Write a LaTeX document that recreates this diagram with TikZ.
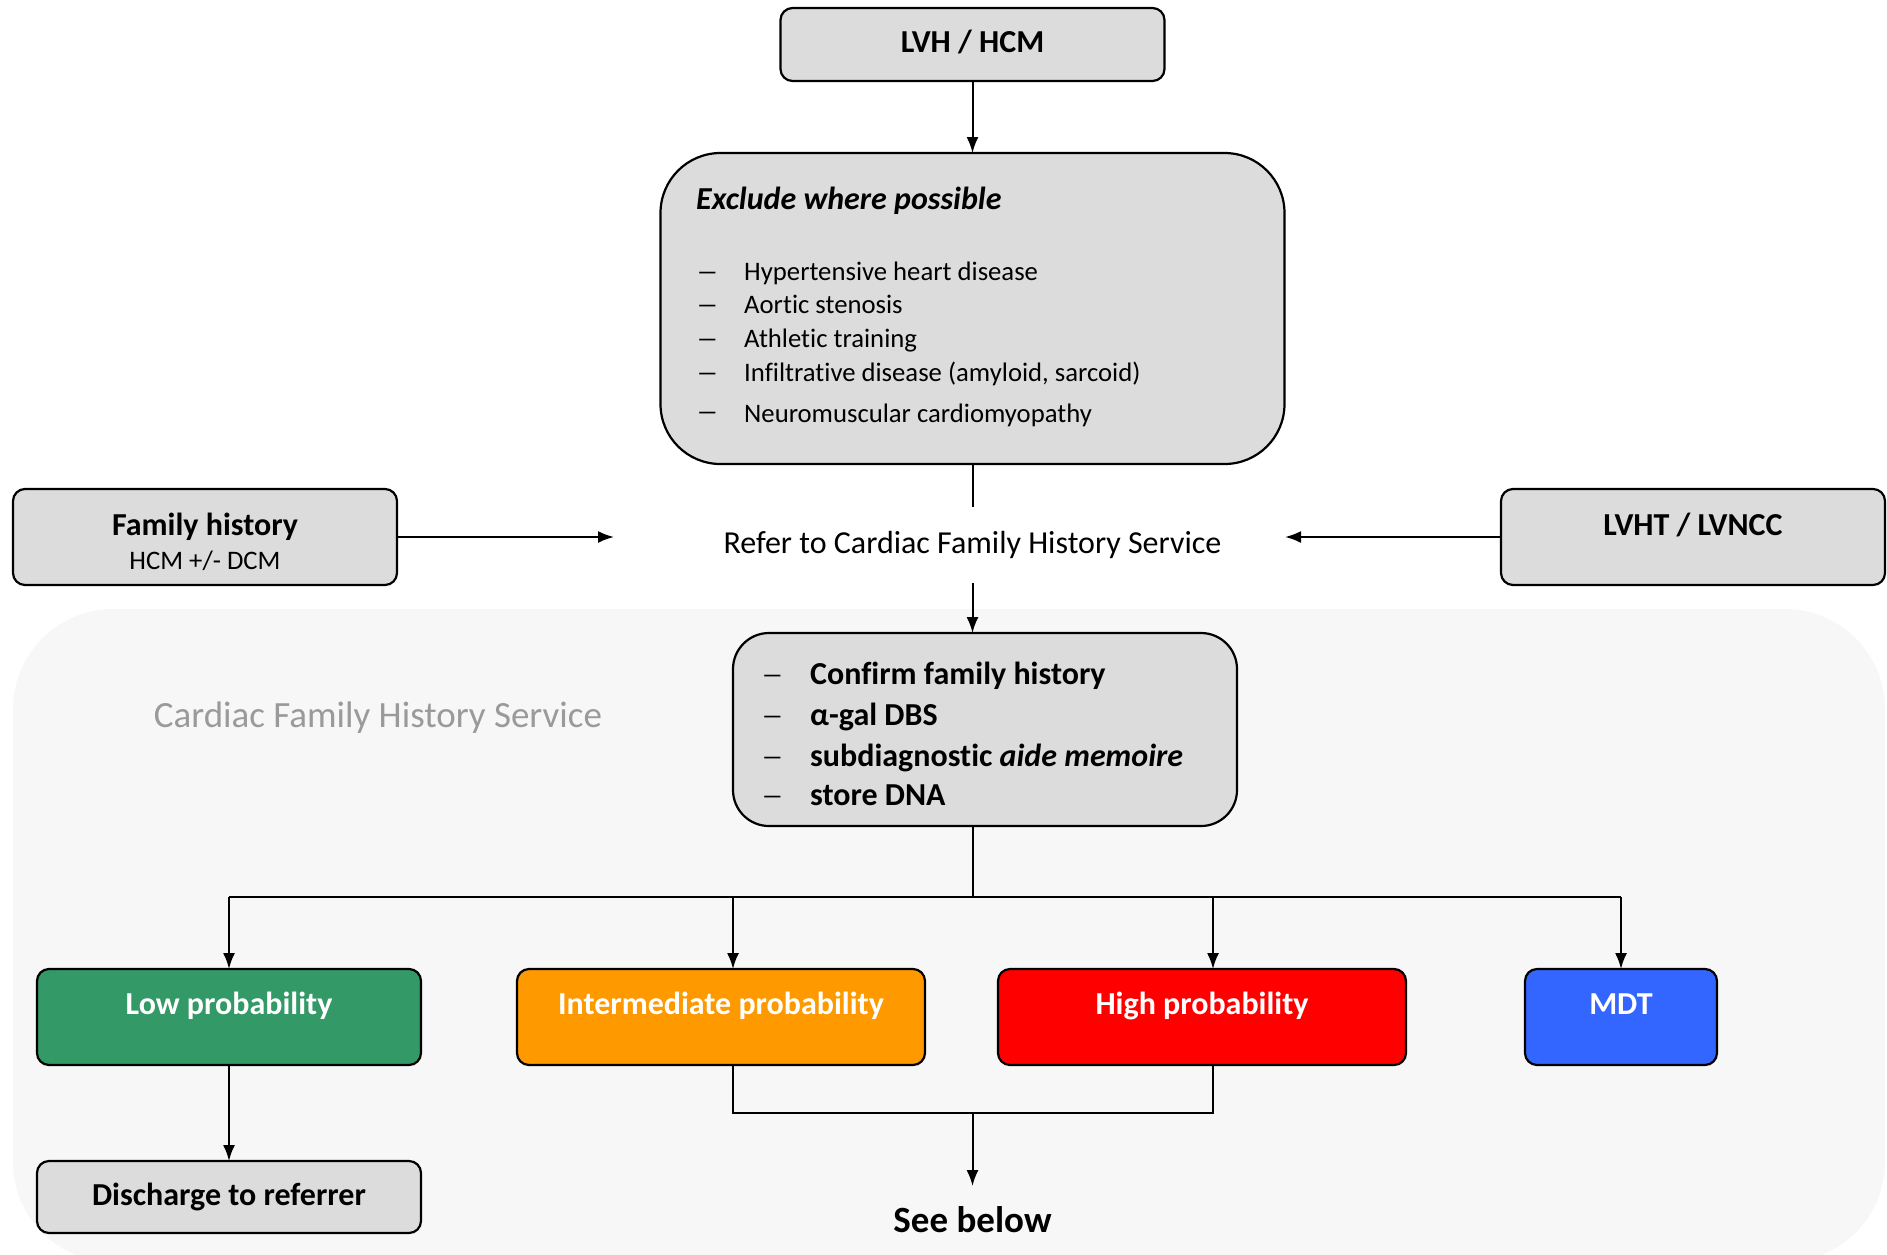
\documentclass[tikz,border=0pt]{standalone}
\usepackage{fontspec}
\setmainfont{Carlito}[Ligatures=NoCommon]
\usetikzlibrary{arrows.meta}
\definecolor{boxgray}{HTML}{DCDCDC}
\definecolor{bggray}{HTML}{F7F7F7}
\definecolor{labgray}{HTML}{9A9A9A}
\definecolor{lowgreen}{HTML}{339966}
\definecolor{midorange}{HTML}{FF9900}
\definecolor{highred}{HTML}{FF0000}
\definecolor{mdtblue}{HTML}{3366FF}
\newcommand{\wdash}{\scalebox{1.7}[1]{–}}
\begin{document}
\begin{tikzpicture}[x=1pt,y=-1pt,
  box/.style={draw=black, line width=2.2pt, fill=boxgray, rounded corners=12pt, inner sep=0pt, outer sep=0pt},
  arr/.style={line width=2pt, -{Latex[length=16pt,width=12pt]}},
  ln/.style={line width=2pt},
  bigb/.style={font=\fontsize{32}{38}\selectfont\bfseries, inner sep=0pt, anchor=base},
  bigw/.style={bigb, text=white},
  listtxt/.style={font=\fontsize{26.7}{32}\selectfont, inner sep=0pt, anchor=base west},
  subtxt/.style={font=\fontsize{26.7}{32}\selectfont, inner sep=0pt, anchor=base},
  conftxt/.style={font=\fontsize{32}{38}\selectfont\bfseries, inner sep=0pt, anchor=base west},
  confdash/.style={font=\fontsize{26.7}{32}\selectfont, inner sep=0pt, anchor=base west},
]
\useasboundingbox (0,0) rectangle (1887,1254);
% background region
\begin{scope}
\clip (0,0) rectangle (1887,1254);
\fill[bggray, rounded corners=100pt] (13,609) rectangle (1885,1262);
\end{scope}
\node[font=\fontsize{37}{44}\selectfont, text=labgray, inner sep=0pt, anchor=base] (svc) at (378,727) {Cardiac Family History Service};

% top box
\node[box, minimum width=384pt, minimum height=73pt] (lvh) at (972.5,44.5) {};
\node[bigb] (lvht) at (972.5,52) {LVH / HCM};

% exclude box
\node[box, rounded corners=60pt, minimum width=624pt, minimum height=311pt] (excl) at (972.5,308.5) {};
\node[font=\fontsize{32}{38}\selectfont\bfseries\itshape, inner sep=0pt, anchor=base west] (exh) at (696,209) {Exclude where possible};
\node[listtxt] (d1) at (696,280) {\wdash};
\node[listtxt] (e1) at (744,280) {Hypertensive heart disease};
\node[listtxt] (d2) at (696,313) {\wdash};
\node[listtxt] (e2) at (744,313) {Aortic stenosis};
\node[listtxt] (d3) at (696,347) {\wdash};
\node[listtxt] (e3) at (744,347) {Athletic training};
\node[listtxt] (d4) at (696,381) {\wdash};
\node[listtxt] (e4) at (744,381) {Infiltrative disease (amyloid, sarcoid)};
\node[listtxt] (d5) at (696,420) {\wdash};
\node[listtxt] (e5) at (744,422) {Neuromuscular cardiomyopathy};

% side boxes
\node[box, minimum width=384pt, minimum height=96pt] (fam) at (205,537) {};
\node[bigb] (famt) at (205,535) {Family history};
\node[subtxt] (fams) at (205,569) {HCM +/- DCM};
\node[box, minimum width=384pt, minimum height=96pt] (lvnc) at (1693,537) {};
\node[bigb] (lvnct) at (1693,535) {LVHT / LVNCC};

% refer
\node[font=\fontsize{32}{38}\selectfont, inner sep=0pt, minimum height=75pt] (refer) at (972.5,545) {Refer to Cardiac Family History Service};
\coordinate (rl) at (614,537);
\coordinate (rr) at (1285,537);

% confirm box
\node[box, rounded corners=36pt, minimum width=504pt, minimum height=193pt] (conf) at (985,729.5) {};
\node[confdash] (c1d) at (761,683) {\wdash};
\node[conftxt] (c1) at (810,684) {Confirm family history};
\node[confdash] (c2d) at (761,724) {\wdash};
\node[conftxt] (c2) at (810,725) {α-gal DBS};
\node[confdash] (c3d) at (761,765) {\wdash};
\node[conftxt] (c3) at (810,766) {subdiagnostic \textit{aide memoire}};
\node[confdash] (c4d) at (761,804) {\wdash};
\node[conftxt] (c4) at (810,805) {store DNA};

% outcome boxes
\node[box, fill=lowgreen, minimum width=384pt, minimum height=96pt] (low) at (229,1017) {};
\node[bigw] (lowt) at (229,1014) {Low probability};
\node[box, fill=midorange, minimum width=408pt, minimum height=96pt] (inter) at (721,1017) {};
\node[bigw] (intert) at (721,1014) {Intermediate probability};
\node[box, fill=highred, minimum width=408pt, minimum height=96pt] (high) at (1202,1017) {};
\node[bigw] (hight) at (1202,1014) {High probability};
\node[box, fill=mdtblue, minimum width=192pt, minimum height=96pt] (mdt) at (1621,1017) {};
\node[bigw] (mdtt) at (1621,1014) {MDT};

\node[box, minimum width=384pt, minimum height=72pt] (disc) at (229,1197) {};
\node[bigb] (disct) at (229,1205) {Discharge to referrer};

\node[font=\fontsize{37}{44}\selectfont\bfseries, inner sep=0pt, anchor=north] (see) at (972.5,1206) {See below};

% connectors
\draw[arr] (lvh.south) -- (excl.north);
\draw[ln] (excl.south) -- (refer.north);
\draw[arr] (refer.south) -- (refer.south |- conf.north);
\draw[arr] (fam.east) -- (rl);
\draw[arr] (lvnc.west) -- (rr);

\coordinate (hub) at (972.5,897);
\draw[ln] (hub |- conf.south) -- (hub);
\draw[ln] (low.north |- hub) -- (mdt.north |- hub);
\draw[arr] (low.north |- hub) -- (low.north);
\draw[arr] ([xshift=12pt]inter.north |- hub) -- ([xshift=12pt]inter.north);
\draw[arr] ([xshift=11pt]high.north |- hub) -- ([xshift=11pt]high.north);
\draw[arr] (mdt.north |- hub) -- (mdt.north);

\draw[arr] (low.south) -- (disc.north);

\coordinate (join) at (972.5,1113);
\draw[ln] ([xshift=12pt]inter.south) -- ([xshift=12pt]inter.south |- join) -- ([xshift=11pt]high.south |- join) -- ([xshift=11pt]high.south);
\draw[arr] (join) -- (join |- 0,1186);
\end{tikzpicture}
\end{document}
